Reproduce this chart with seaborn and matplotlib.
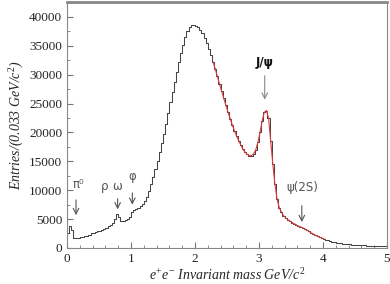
import numpy as np
import pandas as pd
import matplotlib
matplotlib.use("Agg")
import matplotlib.pyplot as plt
import seaborn as sns
from matplotlib.ticker import MultipleLocator

# e+e- invariant mass spectrum, 150 bins of 0.0333 GeV/c^2 between 0 and 5
bin_edges = np.linspace(0, 5, 151)
counts = [
    2600, 3800, 3100, 1800, 1700, 1750, 1850, 1950, 2050, 2150,
    2300, 2600, 2550, 2700, 2850, 3000, 3100, 3300, 3500, 3800,
    4000, 4400, 5000, 5800, 5300, 4700, 4600, 4800, 5000, 5300,
    6300, 6600, 6700, 6900, 7200, 7600, 8200, 8900, 9800, 11000,
    12200, 13600, 15000, 16700, 18200, 19800, 21500, 23300, 25200, 27000,
    28800, 30500, 32200, 33800, 35200, 36500, 37600, 38300, 38700, 38600,
    38500, 38300, 37800, 37200, 36400, 35500, 34500, 33400, 32200, 31000,
    29700, 28400, 27100, 25900, 24700, 23500, 22400, 21300, 20300, 19400,
    18600, 17800, 17100, 16600, 16200, 16000, 16000, 16300, 17000, 18300,
    20000, 22000, 23500, 23800, 22500, 18500, 14500, 11000, 8500, 7000,
    6200, 5600, 5200, 4900, 4600, 4400, 4200, 4000, 3800, 3650,
    3500, 3300, 3100, 2850, 2600, 2400, 2200, 2000, 1850, 1700,
    1550, 1400, 1300, 1200, 1100, 1000, 920, 850, 790, 730,
    680, 640, 600, 570, 540, 510, 490, 470, 450, 430,
    410, 395, 380, 370, 360, 350, 340, 330, 320, 310,
]
centers = (bin_edges[:-1] + bin_edges[1:]) / 2

# fit range drawn in red
fit_lo, fit_hi = 2.27, 4.05

# resonance labels and arrows
peak_names = ["π⁰", "ω", "φ", "ψ(2S)"]
peak_mass = [0.14, 0.79, 1.02, 3.67]
label_y = [9800, 9600, 11200, 9400]
arrow_top = [8800, 9000, 10000, 7800]
arrow_tip = [5200, 6200, 7000, 4000]

df = pd.DataFrame({"mass": centers, "entries": counts})
fit = df[(df["mass"] > fit_lo) & (df["mass"] < fit_hi)]

sns.set_style("ticks")
plt.rcParams["font.family"] = ["Liberation Serif", "DejaVu Serif"]
plt.rcParams["mathtext.fontset"] = "custom"
plt.rcParams["mathtext.it"] = "Liberation Serif:italic"
plt.rcParams["mathtext.rm"] = "Liberation Serif"

fig = plt.figure(figsize=(3.9, 2.84), dpi=100)
ax = fig.add_axes([0.172, 0.127, 0.820, 0.866])

sns.histplot(data=df, x="mass", weights="entries", bins=list(bin_edges),
             element="step", fill=False, color="#444444", linewidth=0.75, ax=ax)
sns.lineplot(data=fit, x="mass", y="entries", color="#e03a3a",
             linewidth=0.8, ax=ax)

ax.set_xlim(0, 5)
ax.set_ylim(0, 42600)
ax.xaxis.set_major_locator(MultipleLocator(1))
ax.xaxis.set_minor_locator(MultipleLocator(0.2))
ax.yaxis.set_major_locator(MultipleLocator(5000))
ax.yaxis.set_minor_locator(MultipleLocator(2500))
ax.tick_params(which="both", direction="in", labelsize=9.5, color="#777777")
ax.tick_params(which="major", length=4)
ax.tick_params(which="minor", length=2.5)
for s in ax.spines.values():
    s.set_color("#888888")
    s.set_linewidth(0.8)
ax.spines["top"].set_linewidth(2)

ax.set_xlabel("$e^{+}e^{-}$ Invariant mass GeV/$c^{2}$", fontsize=10,
              style="italic", labelpad=2)
ax.set_ylabel("Entries/(0.033 GeV/$c^{2}$)", fontsize=10, style="italic",
              labelpad=2)

# resonance arrows
for name, m, ly, top, tip in zip(peak_names, peak_mass, label_y, arrow_top, arrow_tip):
    ax.annotate("", xy=(m, tip), xytext=(m, top),
                arrowprops=dict(arrowstyle="->", color="#555555", lw=0.8))
    ax.text(m + (0.03 if name == "π⁰" else 0), ly, name, ha="center", va="bottom",
            fontsize=8.5, color="#555555", family=["DejaVu Sans"])
ax.text(0.59, 9600, "ρ", ha="center", va="bottom", fontsize=8.5,
        color="#555555", family=["DejaVu Sans"])

ax.annotate("", xy=(3.09, 25200), xytext=(3.09, 30300),
            arrowprops=dict(arrowstyle="->", color="#888888", lw=0.8))
ax.text(3.09, 31000, "J/ψ", ha="center", va="bottom", fontsize=8.5,
        fontweight="bold", family=["DejaVu Sans"], color="#111111")

fig.savefig("out.png", dpi=100)
